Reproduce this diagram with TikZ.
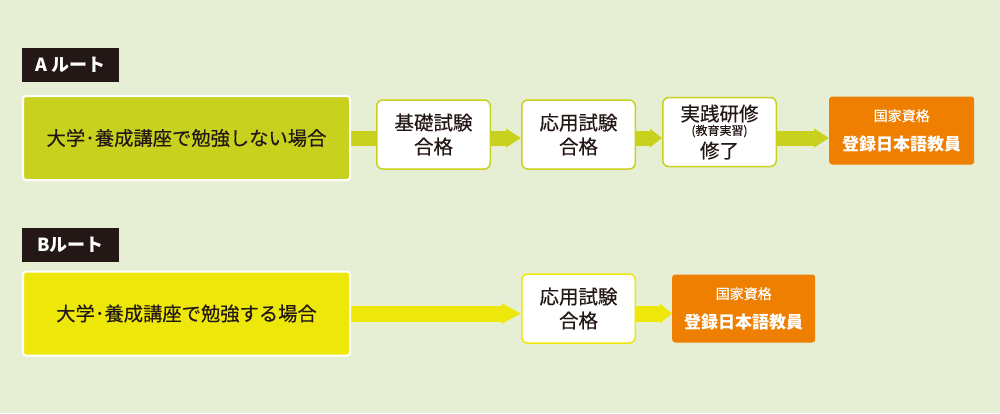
\documentclass[tikz,border=0pt]{standalone}
\usepackage{fontspec}
\setmainfont{Noto Sans CJK JP}[FakeBold=0.35, BoldFeatures={FakeBold=0}]
\usetikzlibrary{arrows.meta,positioning,backgrounds}
\definecolor{paper}{HTML}{E6EFD3}
\definecolor{routeA}{HTML}{C8D21E}
\definecolor{routeB}{HTML}{EEE80A}
\definecolor{goal}{HTML}{EE7F00}
\definecolor{tagdark}{HTML}{231815}
\tikzset{
  tagbox/.style  = {fill=tagdark, text=white, minimum width=97pt, minimum height=34pt,
                    inner sep=0pt, font=\fontsize{18}{18}\selectfont\bfseries},
  casebox/.style = {rounded corners=3pt, draw=white, line width=2pt, text=tagdark,
                    minimum width=327pt, minimum height=84pt, inner sep=0pt,
                    font=\fontsize{19.3}{19}\selectfont},
  stepbox/.style = {rounded corners=6pt, fill=white, line width=1.5pt, text=tagdark,
                    minimum width=113.5pt, minimum height=69pt, align=center, inner sep=0pt,
                    font=\fontsize{19.5}{24}\selectfont},
  goalbox/.style = {rounded corners=3pt, fill=goal, text=white, minimum height=68pt,
                    align=center, inner sep=0pt, font=\fontsize{14}{29}\selectfont},
  barA/.style    = {draw=routeA, line width=15pt},
  barB/.style    = {draw=routeB, line width=16pt},
}
\newcommand{\goaltext}{国家資格\\{\fontsize{17}{29}\selectfont\bfseries 登録日本語教員}}

\begin{document}
\begin{tikzpicture}[x=1pt,y=-1pt]
  \useasboundingbox (0,0) rectangle (1000,413);
  % route A
  \node[casebox,fill=routeA] (amain) at (186.5,138) {大学･養成講座で勉強しない場合};
  \node[tagbox,above=13pt of amain.north west,anchor=south west] (atag) {A ルート};
  \node[stepbox,draw=routeA,right=25pt of amain,yshift=3.5pt] (kisoA) {基礎試験\\合格};
  \node[stepbox,draw=routeA,right=30pt of kisoA] (oyoA) {応用試験\\合格};
  \node[stepbox,draw=routeA,right=26pt of oyoA,yshift=2.5pt,font=\fontsize{19.5}{20}\selectfont] (jissen)
    {実践研修\\[-6pt]{\fontsize{12}{12}\selectfont (教育実習)}\\[3pt]修了};
  \node[goalbox,minimum width=145pt,right=52pt of jissen,yshift=1.5pt] (kokkaA) {\goaltext};
  % route B
  \node[casebox,fill=routeB] (bmain) at (186.5,313.5) {大学･養成講座で勉強する場合};
  \node[tagbox,above=8pt of bmain.north west,anchor=south west] (btag) {Bルート};
  \node[stepbox,draw=routeB,right=170pt of bmain,yshift=5pt] (oyoB) {応用試験\\合格};
  \node[goalbox,minimum width=143pt,right=36pt of oyoB] (kokkaB) {\goaltext};
  % bars behind the boxes
  \begin{scope}[on background layer]
    \fill[paper] (0,0) rectangle (1000,413);
    \draw[barA] (amain) -- (kisoA.west |- amain);
    \draw[barA,-{Triangle[length=15pt,width=18pt]}] (kisoA.east |- amain) -- (oyoA.west |- amain);
    \draw[barA,-{Triangle[length=12pt,width=18pt]}] (oyoA.east |- amain) -- (jissen.west |- amain);
    \draw[barA,-{Triangle[length=15pt,width=18pt]}] (jissen.east |- amain) -- (kokkaA.west |- amain);
    \draw[barB,-{Triangle[length=19pt,width=19pt]}] (bmain) -- (oyoB.west |- bmain);
    \draw[barB,-{Triangle[length=12pt,width=19pt]}] (oyoB.east |- bmain) -- (kokkaB.west |- bmain);
  \end{scope}
\end{tikzpicture}
\end{document}
